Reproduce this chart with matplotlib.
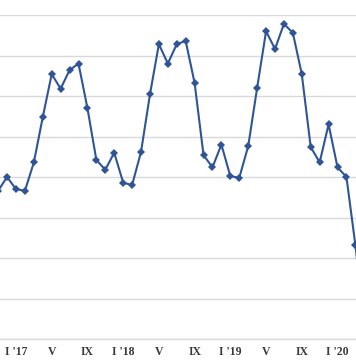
import matplotlib
matplotlib.use("Agg")
import matplotlib.pyplot as plt

# month index relative to Jan 2017 (0 = I'17)
months = list(range(-2, 40))
values = [183, 200, 185, 183, 218, 274, 327, 309, 332, 340, 285, 221, 209, 230,
          193, 190, 231, 302, 364, 340, 364, 368, 316, 227, 212, 240,
          201, 199, 238, 310, 380, 358, 389, 378, 327, 237, 218, 265,
          212, 200, 116, 18]

tick_pos = [0, 4, 8, 12, 16, 20, 24, 28, 32, 36]
tick_labels = ["I '17", "V", "IX", "I '18", "V", "IX", "I '19", "V", "IX", "I '20"]
grid_vals = [0, 50, 100, 150, 200, 250, 300, 350, 400]

fig = plt.figure(figsize=(3.56, 3.64), dpi=100)
ax = fig.add_axes([0, 25/364, 1, 324/364])

ax.plot(months, values, color="#2F5597", lw=1.5, marker="D", ms=3.6,
        markeredgewidth=0, zorder=3, clip_on=True)

ax.set_xlim(-1.79, 38.07)
ax.set_ylim(0, 400)
ax.set_yticks(grid_vals)
ax.yaxis.grid(True, color="#D9D9D9", lw=1.0)
ax.set_axisbelow(True)
ax.tick_params(axis="y", left=False, labelleft=False)
ax.set_xticks(tick_pos)
ax.set_xticklabels(tick_labels, fontfamily="Liberation Serif", fontsize=8.5,
                   color="#3A3A3A", fontweight="bold")
ax.tick_params(axis="x", length=0, pad=5)
for s in ["top", "left", "right"]:
    ax.spines[s].set_visible(False)
ax.spines["bottom"].set_color("#D9D9D9")
ax.spines["bottom"].set_linewidth(1.0)

fig.savefig("out.png", dpi=100)
